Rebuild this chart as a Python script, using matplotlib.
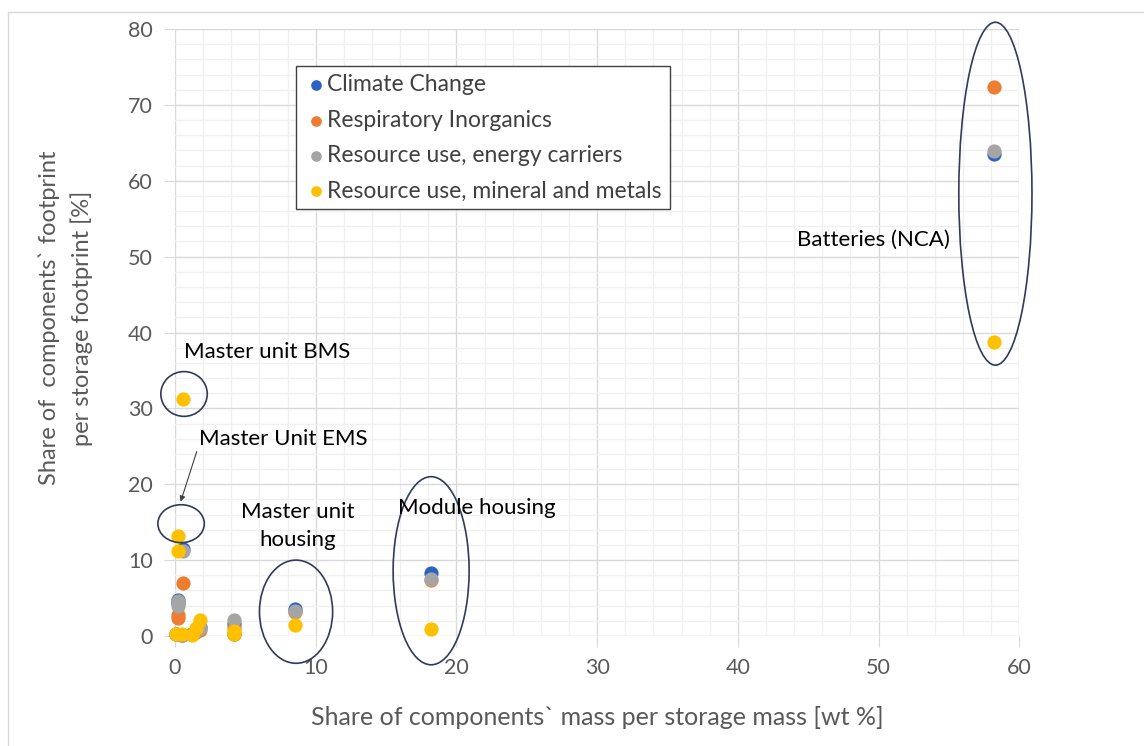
import numpy as np
import matplotlib
matplotlib.use("Agg")
from matplotlib import pyplot as plt
from matplotlib.patches import Ellipse
from matplotlib.lines import Line2D
from matplotlib.ticker import MultipleLocator

plt.rcParams['font.family'] = ['Lato', 'DejaVu Sans']

# share of component mass [wt %]
mass = [58.2, 18.2, 8.5, 4.2, 4.2, 0.6, 0.2, 0.2, 1.8, 1.5, 1.2, 0.1, 0.5]
# share of component footprint per category [%]
climate = [63.5, 8.3, 3.6, 1.6, 0.3, 11.4, 4.8, 4.3, 1.2, 0.7, 0.2, 0.2, 0.1]
respiratory = [72.4, 7.4, 3.1, 1.0, 0.2, 7.0, 2.8, 2.4, 0.8, 0.5, 0.2, 0.2, 0.1]
energy = [63.9, 7.5, 3.3, 2.1, 0.4, 11.2, 4.6, 4.0, 1.1, 0.6, 0.2, 0.2, 0.1]
minerals = [38.7, 0.9, 1.4, 0.6, 0.2, 31.3, 13.2, 11.2, 2.1, 1.0, 0.1, 0.2, 0.2]

series = [
    ("Climate Change", climate, "#2B62C4"),
    ("Respiratory Inorganics", respiratory, "#ED7D31"),
    ("Resource use, energy carriers", energy, "#A5A5A5"),
    ("Resource use, mineral and metals", minerals, "#FFC000"),
]

fig = plt.figure(figsize=(11.44, 7.46), dpi=100)
ax = fig.add_axes([0.153, 0.1475, 0.738, 0.8135])

for name, vals, col in series:
    ax.scatter(mass, vals, s=105, color=col, linewidths=0, label=name,
               clip_on=False, zorder=3)

ax.set_xlim(0, 60)
ax.set_ylim(0, 80)
ax.xaxis.set_major_locator(MultipleLocator(10))
ax.xaxis.set_minor_locator(MultipleLocator(2))
ax.yaxis.set_major_locator(MultipleLocator(10))
ax.yaxis.set_minor_locator(MultipleLocator(2))
ax.grid(which='major', color='#d9d9d9', linewidth=1.0, zorder=0)
ax.grid(which='minor', color='#f0f0f0', linewidth=1.0, zorder=0)
ax.set_axisbelow(True)
for s in ax.spines.values():
    s.set_visible(False)
ax.tick_params(which='major', length=8, color='#d9d9d9', labelsize=15.5,
               labelcolor='#595959', pad=8)
ax.tick_params(which='minor', length=0)

ax.set_xlabel("Share of components` mass per storage mass [wt %]",
              fontsize=18, color='#595959', labelpad=20)
ax.set_ylabel("Share of  components` footprint\nper storage footprint [%]",
              fontsize=17, color='#595959', linespacing=1.55)
ax.yaxis.set_label_coords(-0.097, 0.524)

# annotation ellipses
ell_col = '#2F3B5C'
ellipses = [(58.3, 58.3, 5.2, 45.2), (0.64, 31.9, 3.3, 5.9), (0.43, 14.8, 3.3, 5.0),
            (8.6, 3.2, 5.2, 13.6), (18.2, 8.6, 5.4, 24.8)]
for cx, cy, w, h in ellipses:
    ax.add_patch(Ellipse((cx, cy), w, h, fill=False, edgecolor=ell_col,
                         linewidth=1.2, clip_on=False, zorder=4))

txt = dict(fontsize=16, color='black', zorder=5)
ax.text(0.64, 37.4, "Master unit BMS", ha='left', va='center', **txt)
ax.text(1.7, 26.0, "Master Unit EMS", ha='left', va='center', **txt)
ax.text(8.7, 14.5, "Master unit\nhousing", ha='center', va='center',
        linespacing=1.45, **txt)
ax.text(15.85, 16.9, "Module housing", ha='left', va='center', **txt)
ax.text(49.6, 52.2, "Batteries (NCA)", ha='center', va='center', **txt)
ax.annotate("", xy=(0.4, 17.7), xytext=(1.54, 24.3),
            arrowprops=dict(arrowstyle='-|>', color='#404040', lw=0.8,
                            mutation_scale=8, shrinkA=0, shrinkB=0))

leg = ax.legend(loc='upper left', bbox_to_anchor=(0.1434, 0.939),
                borderaxespad=0, fontsize=16.5, frameon=True, fancybox=False,
                edgecolor='#404040', framealpha=1, handletextpad=0.0,
                handlelength=1.0, labelspacing=0.63, borderpad=0.35,
                markerscale=0.75)
leg.get_frame().set_linewidth(1.0)
for t in leg.get_texts():
    t.set_color('#404040')

# outer chart border (top and left visible)
fig.add_artist(Line2D([8 / 1144, 1.0], [1 - 12 / 746, 1 - 12 / 746],
                      color='#d9d9d9', linewidth=1.0))
fig.add_artist(Line2D([8 / 1144, 8 / 1144], [0.0, 1 - 12 / 746],
                      color='#d9d9d9', linewidth=1.0))

fig.savefig("out.png", dpi=100)
